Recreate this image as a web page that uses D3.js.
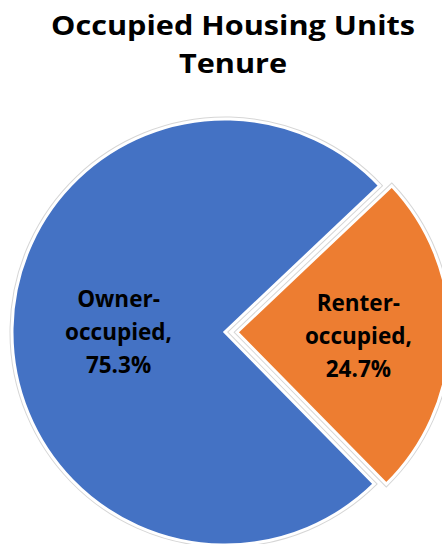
<!DOCTYPE html>
<html lang="en">
<head>
    <meta charset="UTF-8">
    <title>Occupied Housing Units Tenure</title>
    <script src="https://d3js.org/d3.v7.min.js"></script>
    <style>
        html, body { margin: 0; padding: 0; background: #fff; }
        svg { display: block; }
        text { font-family: "Open Sans", Lato, sans-serif; font-weight: bold; fill: #000; }
    </style>
</head>
<body>
    <div id="chart"></div>
    <script>
        // data
        const titleLines = ["Occupied Housing Units", "Tenure"];
        const categories = ["Owner-occupied", "Renter-occupied"];
        const labelLines = [["Owner-", "occupied,", "75.3%"], ["Renter-", "occupied,", "24.7%"]];
        const values = [75.3, 24.7];
        const colors = ["#4472C4", "#ED7D31"];

        const width = 442, height = 544;
        const cx = 225, cy = 332, radius = 213;
        const explode = 12;

        const svg = d3.select("#chart").append("svg")
            .attr("width", width)
            .attr("height", height);

        // title (a bit wider than Open Sans, like the original font)
        svg.append("g")
            .attr("transform", "translate(233,0) scale(1.115,1)")
            .selectAll("text")
            .data(titleLines)
            .enter().append("text")
            .attr("x", 0)
            .attr("y", (d, i) => 35 + i * 38)
            .attr("text-anchor", "middle")
            .attr("font-size", 27.5)
            .text(d => d);

        const start = 135.5 * Math.PI / 180;
        const pie = d3.pie().sort(null).startAngle(start).endAngle(start + 2 * Math.PI);
        const arcs = pie(values);

        const arc = d3.arc().innerRadius(0).outerRadius(radius);

        // only the smaller slice is pulled out
        function offset(d, i) {
            if (i === 0) return [0, 0];
            const a = (d.startAngle + d.endAngle) / 2;
            return [Math.sin(a) * explode, -Math.cos(a) * explode];
        }

        // label sits a bit further out in the narrow exploded slice
        function labelPos(d, i) {
            const r = radius * (i === 0 ? 0.5 : 0.57);
            return d3.arc().innerRadius(r).outerRadius(r).centroid(d);
        }

        const g = svg.append("g").attr("transform", `translate(${cx},${cy})`);

        const slice = g.selectAll("g.slice")
            .data(arcs)
            .enter().append("g")
            .attr("class", "slice")
            .attr("transform", (d, i) => `translate(${offset(d, i)})`);

        // faint grey edge behind the white border
        slice.append("path")
            .attr("d", arc)
            .attr("fill", "none")
            .attr("stroke", "#d6d6d6")
            .attr("stroke-width", 5)
            .attr("stroke-linejoin", "miter");

        slice.append("path")
            .attr("d", arc)
            .attr("fill", (d, i) => colors[i])
            .attr("stroke", "#fff")
            .attr("stroke-width", 3)
            .attr("stroke-linejoin", "miter");

        slice.append("title").text((d, i) => categories[i] + ": " + values[i] + "%");

        // labels
        slice.each(function(d, i) {
            const [lx, ly] = labelPos(d, i);
            const lines = labelLines[i];
            d3.select(this).append("text")
                .attr("text-anchor", "middle")
                .attr("font-size", 22.5)
                .selectAll("tspan")
                .data(lines)
                .enter().append("tspan")
                .attr("x", lx)
                .attr("y", (t, j) => ly + 10 + (j - 1) * 33)
                .text(t => t);
        });
    </script>
</body>
</html>
